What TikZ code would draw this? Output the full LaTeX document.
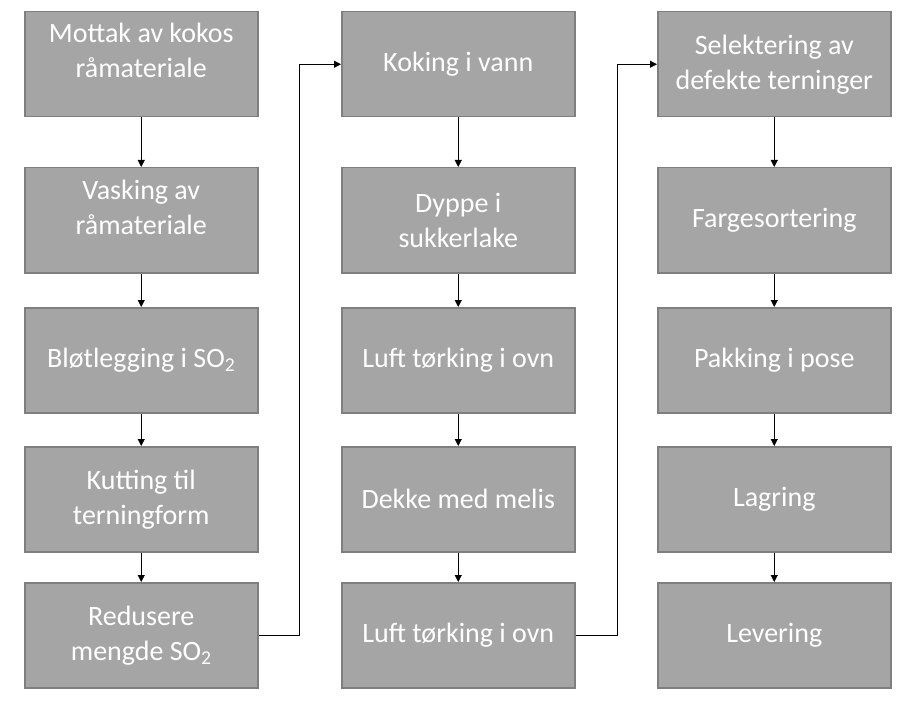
\documentclass[tikz,border=0pt]{standalone}
\usepackage{fontspec}
\setmainfont{Carlito}
\usetikzlibrary{arrows.meta}
\definecolor{boxfill}{HTML}{A5A5A5}
\definecolor{boxline}{HTML}{7F7F7F}
\begin{document}
\begin{tikzpicture}[x=1pt,y=-1pt,
  box/.style={draw=boxline, line width=1.5pt, fill=boxfill, minimum width=233pt,
    minimum height=105pt, anchor=north west, inner sep=0pt, align=center,
    text=white, font=\fontsize{28}{35}\selectfont},
  lbl/.style={text=white, align=center, inner sep=0pt, font=\fontsize{28}{35}\selectfont},
  conn/.style={draw=black, line width=1pt, -{Triangle[width=7pt,length=7pt]}}]
\useasboundingbox (0,0) rectangle (900,706);
% column 1
\node[box, label={[lbl,yshift=14pt]center:{Mottak av kokos\\råmateriale}}] (a1) at (24,11) {};
\node[box, label={[lbl,yshift=13pt]center:{Vasking av\\råmateriale}}] (a2) at (24,167) {};
\node[box] (a3) at (24,307) {Bløtlegging i SO\textsubscript{2}};
\node[box] (a4) at (24,446) {Kutting til\\terningform};
\node[box] (a5) at (24,582) {Redusere\\mengde SO\textsubscript{2}};
% column 2
\node[box] (b1) at (341,11) {Koking i vann};
\node[box] (b2) at (341,167) {Dyppe i\\sukkerlake};
\node[box] (b3) at (341,307) {Luft tørking i ovn};
\node[box] (b4) at (341,446) {Dekke med melis};
\node[box] (b5) at (341,582) {Luft tørking i ovn};
% column 3
\node[box] (c1) at (657,11) {Selektering av\\defekte terninger};
\node[box] (c2) at (657,167) {Fargesortering};
\node[box] (c3) at (657,307) {Pakking i pose};
\node[box] (c4) at (657,446) {Lagring};
\node[box] (c5) at (657,582) {Levering};
% connectors
\draw[conn] (a1) -- (a2);
\draw[conn] (a2) -- (a3);
\draw[conn] (a3) -- (a4);
\draw[conn] (a4) -- (a5);
\draw[conn] (a5.east) -- ++(41,0) |- (b1.west);
\draw[conn] (b1) -- (b2);
\draw[conn] (b2) -- (b3);
\draw[conn] (b3) -- (b4);
\draw[conn] (b4) -- (b5);
\draw[conn] (b5.east) -- ++(42,0) |- (c1.west);
\draw[conn] (c1) -- (c2);
\draw[conn] (c2) -- (c3);
\draw[conn] (c3) -- (c4);
\draw[conn] (c4) -- (c5);
\end{tikzpicture}
\end{document}
